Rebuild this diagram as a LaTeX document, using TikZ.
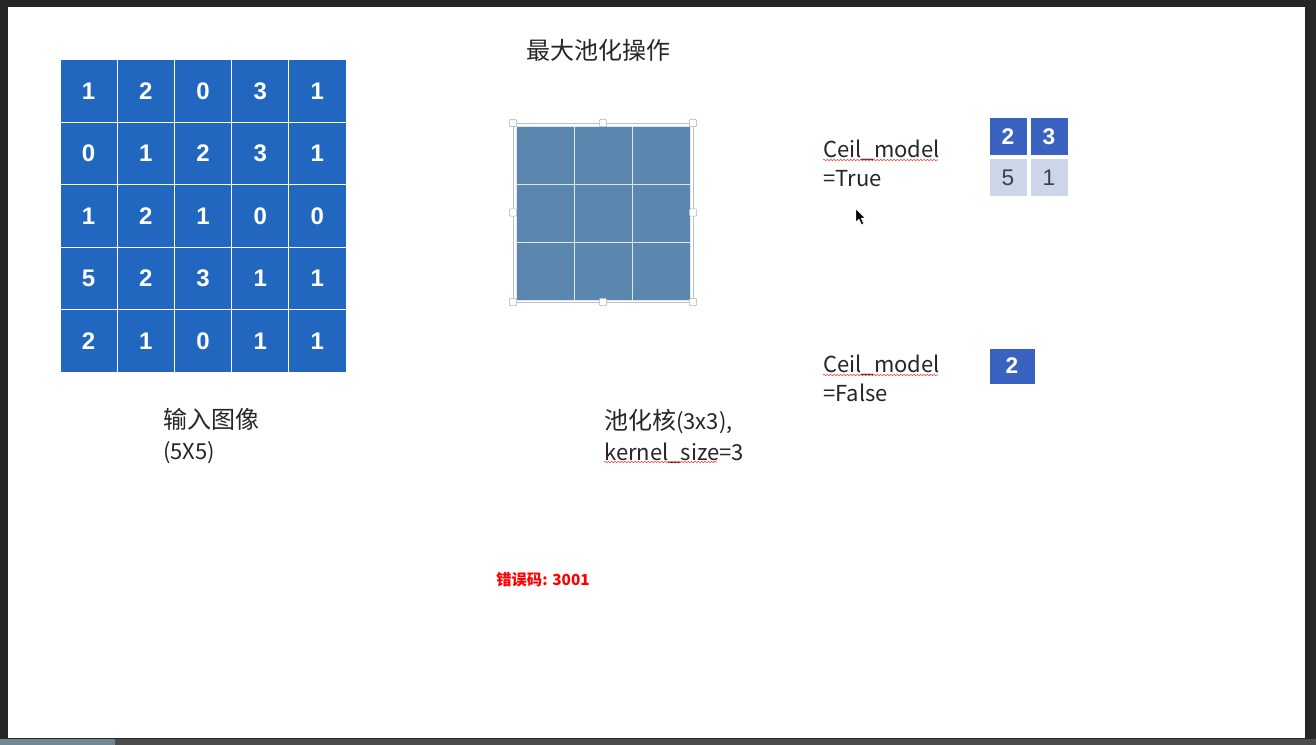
\documentclass[tikz,border=0pt]{standalone}
\usepackage{fontspec}
\setmainfont{Noto Sans CJK SC}
\newfontfamily\numfont{Liberation Sans}
\usetikzlibrary{positioning, decorations.pathmorphing}

\definecolor{inblue}{HTML}{2167C0}
\definecolor{kerblue}{HTML}{5B87AE}
\definecolor{outblue}{HTML}{3A63C1}
\definecolor{outlight}{HTML}{CDD5EA}
\definecolor{frame}{HTML}{262626}

\newcommand\zh[1]{{\fontsize{18}{23.25}\selectfont #1}}

\begin{document}
\begin{tikzpicture}[
		x=0.75pt, y=-0.75pt,
		incell/.style={draw=white, line width=0.75pt, fill=inblue, text=white,
			minimum width=42.9pt, minimum height=46.8pt, inner sep=0pt,
			font=\numfont\bfseries\fontsize{18}{18}\selectfont},
		kercell/.style={draw=white!80!kerblue, line width=0.6pt, fill=kerblue,
			minimum size=43.5pt, inner sep=0pt},
		handle/.style={draw=black!30, fill=white, line width=0.4pt,
			minimum size=5.5pt, inner sep=0pt, rounded corners=0.8pt},
		outcell/.style={draw=white, line width=1.5pt, fill=outblue, text=white,
			minimum width=29.25pt, minimum height=29.25pt, inner sep=0pt,
			font=\numfont\bfseries\fontsize{17}{17}\selectfont},
		lightcell/.style={outcell, fill=outlight, text=black!75,
			font=\numfont\fontsize{17}{17}\selectfont},
		label/.style={anchor=west, align=left, inner sep=0pt, text=black!85,
			font=\fontsize{16.5}{23.25}\selectfont},
		spell/.style={draw=red!80, line width=0.4pt,
			decorate, decoration={snake, amplitude=0.5pt, segment length=2.5pt}}
		]
		% screen frame
		\fill[frame] (0,0) rectangle (1316,745);
		\fill[white] (8,7) rectangle (1305,738);
		\fill[black!70] (0,739) rectangle (1316,745);
		\fill[cyan!30!black!70] (0,739) rectangle (115,745);
		
		% title
		\node[font=\fontsize{18}{18}\selectfont, text=black!85] (title) at (598,50) {最大池化操作};
		
		% input image 5x5
		\foreach \row [count=\r] in {{1,2,0,3,1},{0,1,2,3,1},{1,2,1,0,0},{5,2,3,1,1},{2,1,0,1,1}}
		\foreach \v [count=\c] in \row
		\node[incell] (in-\r-\c) at ({60+57.2*(\c-0.5)},{60+62.4*(\r-0.5)}) {\v};
		\node[label] (inlabel) at (163,436) {\zh{输入图像}\\(5X5)};
		
		% pooling kernel 3x3
		\foreach \r in {1,2,3}
		\foreach \c in {1,2,3}
		\node[kercell] (ker-\r-\c) at ({516+58*(\c-0.5)},{126+58*(\r-0.5)}) {};
		\draw[black!25, line width=0.6pt] (513,123) rectangle (693,302);
		\foreach \hx/\hy in {513/123, 603/123, 693/123, 513/212.5, 693/212.5, 513/302, 603/302, 693/302}
		\node[handle] at (\hx,\hy) {};
		\node[label] (kerlabel) at (604,436) {\zh{池化核}(3x3),\\kernel\_size=3};
		\draw[spell] (604,462) -- (717,462);
		
		% ceil_mode = True
		\node[label, font=\fontsize{16.5}{21.75}\selectfont] (truelabel) at (823,163) {Ceil\_model\\=True};
		\draw[spell] (823,160) -- (938,160);
		\node[outcell] (t-1-1) at (1008,136.5) {2};
		\node[outcell, right=0pt of t-1-1] (t-1-2) {3};
		\node[lightcell, below=0pt of t-1-1] (t-2-1) {5};
		\node[lightcell, right=0pt of t-2-1] (t-2-2) {1};
		
		% ceil_mode = False
		\node[label, font=\fontsize{16.5}{21.75}\selectfont] (falselabel) at (823,378) {Ceil\_model\\=False};
		\draw[spell] (823,375) -- (938,375);
		\node[outcell, minimum width=35.25pt, minimum height=27.75pt] (f-1-1) at (1012,366) {2};
		
		% mouse pointer
		\filldraw[fill=black, draw=white, line width=0.3pt]
		(856,209) -- (856,222) -- (859,219) -- (861.5,224.5) -- (863.5,223.5) -- (861,218) -- (865,218) -- cycle;
		
		% error code
		\node[text=red, font=\bfseries\fontsize{11.5}{11.5}\selectfont] (err) at (543,580) {错误码: 3001};
	\end{tikzpicture}
\end{document}
